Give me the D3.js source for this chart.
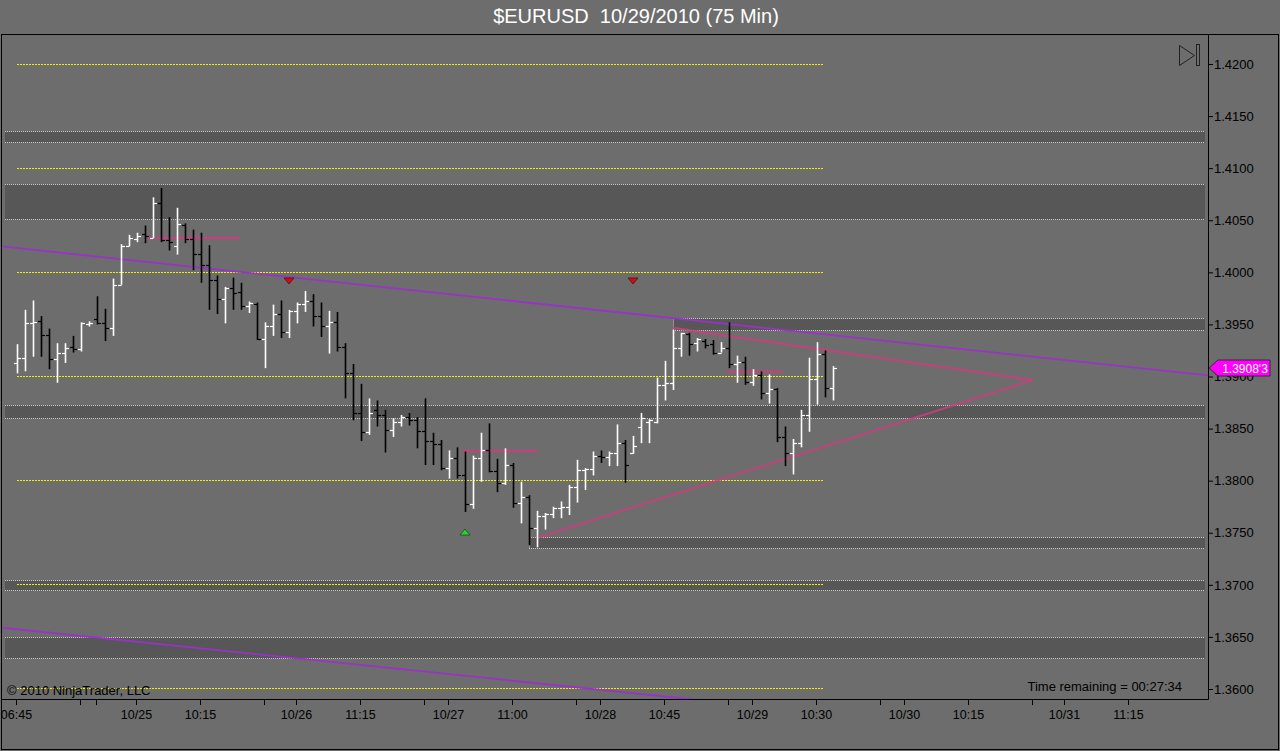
<!DOCTYPE html>
<html><head><meta charset="utf-8">
<script src="https://cdn.jsdelivr.net/npm/d3@7"></script>
<style>
body{margin:0;background:#6d6d6d;overflow:hidden}
svg{display:block}
text{font-family:"Liberation Sans",Arial,sans-serif}
</style>
</head><body>
<svg id="c" width="1280" height="751"></svg>
<script>
// ---- data ----
const opens=[1.3913,1.3918,1.3951,1.3953,1.3940,1.3917,1.3923,1.3928,1.3926,1.3950,
1.3955,1.3951,1.3947,1.3988,1.4025,1.4032,1.4037,1.4033,1.4067,1.4031,
1.4025,1.4045,1.4032,1.4018,1.4007,1.3993,1.3974,1.3985,1.3981,1.3968,
1.3970,1.3936,1.3948,1.3960,1.3943,1.3963,1.3970,1.3972,1.3958,1.3948,
1.3952,1.3928,1.3903,1.3865,1.3847,1.3868,1.3863,1.3849,1.3856,1.3861,
1.3858,1.3848,1.3838,1.3835,1.3812,1.3822,1.3805,1.3778,1.3822,1.3829,
1.3809,1.3798,1.3815,1.3779,1.3784,1.3755,1.3766,1.3768,1.3774,1.3775,
1.3794,1.3810,1.3811,1.3824,1.3823,1.3827,1.3836,1.3827,1.3852,1.3856,
1.3856,1.3892,1.3894,1.3927,1.3941,1.3932,1.3934,1.3931,1.3923,1.3927,
1.3912,1.3914,1.3895,1.3901,1.3884,1.3888,1.3842,1.3827,1.3836,1.3863,
1.3898,1.3922,1.3889];
const highs=[1.3931,1.3964,1.3973,1.3958,1.3946,1.3932,1.3932,1.3939,1.3952,1.3953,
1.3977,1.3965,1.3994,1.4027,1.4036,1.4038,1.4045,1.4072,1.4081,1.4053,
1.4062,1.4047,1.4041,1.4038,1.4026,1.3997,1.3986,1.3995,1.3990,1.3972,
1.3971,1.3952,1.3969,1.3973,1.3964,1.3971,1.3982,1.3979,1.3971,1.3963,
1.3962,1.3932,1.3912,1.3893,1.3879,1.3877,1.3868,1.3860,1.3863,1.3865,
1.3861,1.3879,1.3846,1.3839,1.3829,1.3832,1.3828,1.3824,1.3846,1.3855,
1.3821,1.3831,1.3817,1.3799,1.3786,1.3771,1.3769,1.3775,1.3780,1.3796,
1.3820,1.3812,1.3828,1.3829,1.3828,1.3854,1.3839,1.3843,1.3865,1.3859,
1.3899,1.3915,1.3945,1.3942,1.3942,1.3937,1.3936,1.3935,1.3933,1.3952,
1.3920,1.3919,1.3907,1.3905,1.3902,1.3889,1.3852,1.3840,1.3868,1.3918,
1.3933,1.3925,1.3910];
const lows=[1.3903,1.3905,1.3919,1.3919,1.3907,1.3894,1.3913,1.3923,1.3924,1.3948,
1.3950,1.3934,1.3939,1.3988,1.4025,1.4029,1.4028,1.4033,1.4029,1.4021,
1.4017,1.4028,1.4002,1.3990,1.3964,1.3960,1.3951,1.3964,1.3964,1.3961,
1.3935,1.3908,1.3939,1.3937,1.3937,1.3951,1.3962,1.3948,1.3938,1.3922,
1.3924,1.3879,1.3858,1.3838,1.3844,1.3852,1.3827,1.3842,1.3852,1.3853,
1.3831,1.3815,1.3815,1.3810,1.3802,1.3802,1.3770,1.3773,1.3799,1.3808,
1.3789,1.3796,1.3774,1.3759,1.3738,1.3736,1.3753,1.3764,1.3764,1.3767,
1.3779,1.3791,1.3805,1.3817,1.3814,1.3814,1.3798,1.3826,1.3836,1.3836,
1.3855,1.3877,1.3887,1.3919,1.3920,1.3924,1.3927,1.3921,1.3923,1.3908,
1.3894,1.3892,1.3891,1.3878,1.3874,1.3837,1.3814,1.3806,1.3832,1.3847,
1.3873,1.3880,1.3877];
const closes=[1.3918,1.3951,1.3952,1.3940,1.3917,1.3923,1.3927,1.3926,1.3951,1.3951,
1.3951,1.3947,1.3988,1.4025,1.4033,1.4035,1.4035,1.4067,1.4031,1.4029,
1.4046,1.4032,1.4018,1.4007,1.3993,1.3974,1.3985,1.3980,1.3968,1.3971,
1.3936,1.3948,1.3960,1.3943,1.3963,1.3970,1.3972,1.3958,1.3948,1.3952,
1.3928,1.3903,1.3865,1.3847,1.3865,1.3863,1.3849,1.3856,1.3861,1.3858,
1.3848,1.3838,1.3835,1.3812,1.3822,1.3805,1.3778,1.3822,1.3829,1.3809,
1.3798,1.3815,1.3779,1.3784,1.3755,1.3766,1.3768,1.3774,1.3775,1.3794,
1.3810,1.3811,1.3824,1.3823,1.3827,1.3836,1.3815,1.3833,1.3860,1.3858,
1.3892,1.3894,1.3927,1.3942,1.3931,1.3936,1.3930,1.3923,1.3927,1.3912,
1.3914,1.3895,1.3901,1.3884,1.3888,1.3842,1.3827,1.3836,1.3863,1.3898,
1.3922,1.3889,1.3908];

// x axis (bar index positions and labels)
const xTickIdx=[0,15,23,35,43,54,62,73,81,92,100,111,119,131,139];
const xTickLabels=["06:45","10/25","10:15","10/26","11:15","10/27","11:00","10/28","10:45","10/29","10:30","10/30","10:15","10/31","11:15"];
const xMinorIdx=[8,10,31,51,70,89,108,127];
// y axis ticks
const yTicks=[1.4200,1.4150,1.4100,1.4050,1.4000,1.3950,1.3900,1.3850,1.3800,1.3750,1.3700,1.3650,1.3600];
// yellow dotted round-number levels
const levels=[1.42,1.41,1.40,1.39,1.38,1.37,1.36];
// grey zones
const zoneStart=[-1.5,-1.5,82,-1.5,64,-1.5,-1.5];
const zoneTop=[1.41357,1.40848,1.39562,1.38727,1.37459,1.37046,1.36499];
const zoneBottom=[1.41251,1.40512,1.39446,1.38602,1.37354,1.36950,1.36298];
// purple trend channel lines [idx, price]
const trend1=[[-2,1.4025],[149,1.3901]];
const trend2=[[-2,1.36589],[149,1.35386]];
// pink triangle
const triangle=[[82,1.39466],[127,1.38966],[65,1.37450]];
// pink short horizontal lines
const hSegFrom=[16.25,55.75,88.75];
const hSegTo=[27.9,65.1,95.75];
const hSegPrice=[1.4033,1.38285,1.39048];
// signal markers
const sellIdx=[34,77]; const sellPrice=[1.39917,1.39917];
const buyIdx=[56]; const buyPrice=[1.37507];

// ---- drawing ----
const svg=d3.select("#c");
const L=2,R=1208,T=35,B=699;
const x=d3.scaleLinear().domain([0,102]).range([17,833]);
const y=d3.scaleLinear().domain([1.36,1.42]).range([689,64]);

svg.append("rect").attr("width",1280).attr("height",751).attr("fill","#6d6d6d");
svg.append("defs").append("clipPath").attr("id","pc").append("rect")
  .attr("x",L).attr("y",T).attr("width",R-L).attr("height",B-T);

// title
svg.append("text").attr("x",636).attr("y",23).attr("text-anchor","middle")
  .attr("fill","#ffffff").attr("font-size",20).style("white-space","pre")
  .text("$EURUSD  10/29/2010 (75 Min)");

const g=svg.append("g").attr("clip-path","url(#pc)");

// zones
zoneTop.forEach((t,i)=>{
  const x0=x(zoneStart[i]), x1=x(148.5);
  const y0=Math.round(y(t))+0.5, y1=Math.round(y(zoneBottom[i]))+0.5;
  g.append("rect").attr("x",x0).attr("y",y0).attr("width",x1-x0).attr("height",y1-y0).attr("fill","#575757");
  [y0,y1].forEach(yy=>g.append("line").attr("x1",x0).attr("x2",x1).attr("y1",yy).attr("y2",yy)
    .attr("stroke","#c8c8c8").attr("stroke-width",1).attr("stroke-dasharray","1,1"));
  if(zoneStart[i]>0){
    g.append("line").attr("x1",x0+0.5).attr("x2",x0+0.5).attr("y1",y0).attr("y2",y1)
      .attr("stroke","#c8c8c8").attr("stroke-dasharray","1,1");
  }
});

// yellow levels
levels.forEach(v=>{
  const yy=2*Math.floor(y(v)/2)+0.5;
  g.append("line").attr("x1",x(0)).attr("x2",824).attr("y1",yy).attr("y2",yy)
   .attr("stroke","#f2f000").attr("stroke-width",1).attr("stroke-dasharray","2,1");
});

// purple trend lines
const ln=d3.line().x(d=>x(d[0])).y(d=>y(d[1]));
[trend1,trend2].forEach(t=>g.append("path").attr("d",ln(t)).attr("fill","none")
  .attr("stroke","#9a32c8").attr("stroke-width",1.8));

// pink triangle
g.append("path").attr("d",ln(triangle)).attr("fill","none")
  .attr("stroke","#c8407e").attr("stroke-width",2.2).attr("stroke-opacity",0.85);
hSegPrice.forEach((p,i)=>g.append("line").attr("x1",x(hSegFrom[i])).attr("x2",x(hSegTo[i]))
  .attr("y1",y(p)).attr("y2",y(p)).attr("stroke","#c8407e").attr("stroke-width",2.5).attr("stroke-opacity",0.85));

// OHLC bars
const bars=g.append("g");
closes.forEach((c,i)=>{
  const col=c>=opens[i]?"#ffffff":"#000000";
  const cx=Math.round(x(i))+0.5;
  bars.append("line").attr("x1",cx).attr("x2",cx).attr("y1",y(highs[i])).attr("y2",y(lows[i]))
    .attr("stroke",col).attr("stroke-width",1.6);
  bars.append("line").attr("x1",cx-3.5).attr("x2",cx).attr("y1",Math.round(y(opens[i]))+0.5).attr("y2",Math.round(y(opens[i]))+0.5)
    .attr("stroke",col).attr("stroke-width",1.2);
  bars.append("line").attr("x1",cx).attr("x2",cx+3.5).attr("y1",Math.round(y(c))+0.5).attr("y2",Math.round(y(c))+0.5)
    .attr("stroke",col).attr("stroke-width",1.2);
});

// markers
sellIdx.forEach((d,i)=>{const cx=x(d),cy=y(sellPrice[i]);
  g.append("path").attr("d",`M${cx-5},${cy-3}L${cx+5},${cy-3}L${cx},${cy+3}Z`).attr("fill","#d01010").attr("stroke","#501010").attr("stroke-width",0.8);});
buyIdx.forEach((d,i)=>{const cx=x(d),cy=y(buyPrice[i]);
  g.append("path").attr("d",`M${cx-5},${cy+3}L${cx+5},${cy+3}L${cx},${cy-3}Z`).attr("fill","#30d030").attr("stroke","#105010").attr("stroke-width",0.8);});

// axes
const xAxis=d3.axisBottom(x).tickValues(xTickIdx).tickFormat((d,i)=>xTickLabels[i]).tickSize(6).tickSizeOuter(0);
const xa=svg.append("g").attr("transform",`translate(-1,${B})`).call(xAxis);
xa.select(".domain").remove();
xa.selectAll("text").attr("font-size",12.5).attr("fill","#000").attr("dy","0.85em")
  .attr("font-family","'Liberation Sans',Arial,sans-serif");
xa.selectAll("line").attr("stroke","#000");
svg.append("g").selectAll("line").data(xMinorIdx).join("line")
  .attr("x1",d=>Math.round(x(d))-0.5).attr("x2",d=>Math.round(x(d))-0.5).attr("y1",B).attr("y2",B+6).attr("stroke","#000");

const yAxis=d3.axisRight(y).tickValues(yTicks).tickFormat(d3.format(".4f")).tickSize(5).tickSizeOuter(0);
const ya=svg.append("g").attr("transform",`translate(${R},0)`).call(yAxis);
ya.select(".domain").remove();
ya.selectAll("text").attr("font-size",13).attr("fill","#000").attr("x",6)
  .attr("font-family","'Liberation Sans',Arial,sans-serif");
ya.selectAll("line").attr("stroke","#000");

// frame lines
svg.append("line").attr("x1",L).attr("x2",R+0.5).attr("y1",B+0.5).attr("y2",B+0.5).attr("stroke","#000");
svg.append("line").attr("x1",R+0.5).attr("x2",R+0.5).attr("y1",T).attr("y2",B+0.5).attr("stroke","#000");
svg.append("rect").attr("x",1.5).attr("y",34.5).attr("width",1277).attr("height",715)
  .attr("fill","none").attr("stroke","#000");

// last price tag
const lp=closes[closes.length-1], ly=Math.round(y(lp));
svg.append("path").attr("d",`M${R+1},${ly}L${R+10},${ly-8}L${R+62},${ly-8}L${R+62},${ly+8}L${R+10},${ly+8}Z`)
  .attr("fill","#ff00ff").attr("stroke","#202020").attr("stroke-width",0.8);
svg.append("text").attr("x",R+37).attr("y",ly+4.5).attr("text-anchor","middle").attr("fill","#fff")
  .attr("font-size",12).text(d3.format(".4f")(lp)+"'3");

// go-to-end icon
svg.append("path").attr("d","M1179.5,45.5L1179.5,65.5L1194.5,55.5Z").attr("fill","none").attr("stroke","#222").attr("stroke-width",1);
svg.append("rect").attr("x",1196.5).attr("y",44.5).attr("width",3).attr("height",21).attr("fill","none").attr("stroke","#222");

// texts
svg.append("text").attr("x",7).attr("y",695).attr("font-size",13).attr("fill","#000").text("© 2010 NinjaTrader, LLC");
svg.append("text").attr("x",1182).attr("y",691).attr("text-anchor","end").attr("font-size",13).attr("fill","#000").text("Time remaining = 00:27:34");
</script>
</body></html>
